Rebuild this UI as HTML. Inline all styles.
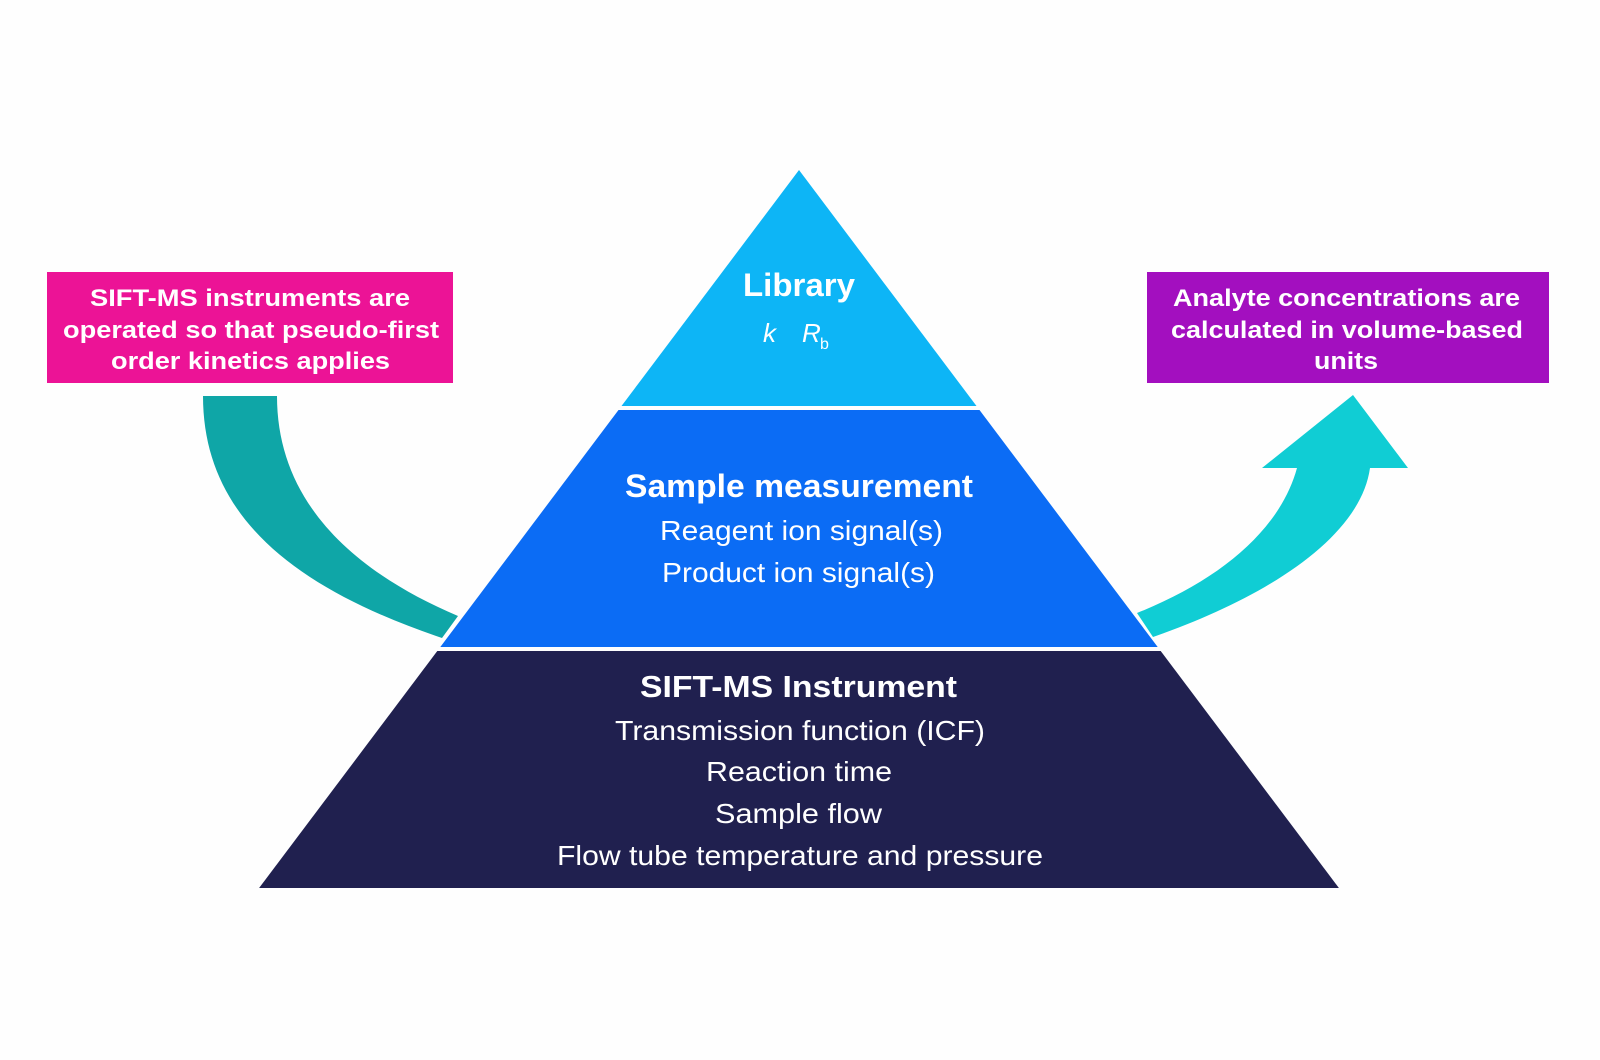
<!DOCTYPE html>
<html>
<head>
<meta charset="utf-8">
<style>
  html,body{margin:0;padding:0;background:#fefefe;}
  svg{display:block;}
  text{font-family:"Liberation Sans",Arial,sans-serif;fill:#ffffff;}
  .b{font-weight:bold;}
</style>
</head>
<body>
<svg width="1600" height="1060" viewBox="0 0 1600 1060" xmlns="http://www.w3.org/2000/svg">
  <rect x="0" y="0" width="1600" height="1060" fill="#fefefe"/>

  <!-- Pyramid tiers -->
  <polygon points="799,170 976.5,406 621.5,406" fill="#0db5f6"/>
  <polygon points="618.5,410 979.5,410 1157.7,647 440.3,647" fill="#0b6cf5"/>
  <polygon points="437.3,651 1160.7,651 1338.9,888 259.1,888" fill="#20204f"/>

  <!-- Left teal curved band -->
  <path d="M203,396 L277,396 C277,500 350,570 458,616 L442,638 C300,590 203,520 203,396 Z" fill="#0fa6a7"/>

  <!-- Right cyan curved arrow -->
  <path d="M1137,613 C1220,580 1280,530 1297,468 L1262,468 L1353,395 L1408,468 L1370,468 C1360,540 1260,600 1153,637 Z" fill="#10cdd4"/>

  <!-- Left magenta box -->
  <rect x="47" y="272" width="406" height="111" fill="#ec1396"/>
  <text class="b" font-size="24" x="90" y="306" textLength="320" lengthAdjust="spacingAndGlyphs">SIFT-MS instruments are</text>
  <text class="b" font-size="24" x="63" y="338" textLength="376" lengthAdjust="spacingAndGlyphs">operated so that pseudo-first</text>
  <text class="b" font-size="24" x="111" y="369" textLength="279" lengthAdjust="spacingAndGlyphs">order kinetics applies</text>

  <!-- Right purple box -->
  <rect x="1147" y="272" width="402" height="111" fill="#a30fbf"/>
  <text class="b" font-size="24" x="1173" y="306" textLength="347" lengthAdjust="spacingAndGlyphs">Analyte concentrations are</text>
  <text class="b" font-size="24" x="1171" y="338" textLength="352" lengthAdjust="spacingAndGlyphs">calculated in volume-based</text>
  <text class="b" font-size="24" x="1314" y="369" textLength="64" lengthAdjust="spacingAndGlyphs">units</text>

  <!-- Library tier text -->
  <text class="b" font-size="32" x="743" y="296" textLength="112" lengthAdjust="spacingAndGlyphs">Library</text>
  <text font-size="26" font-style="italic" x="763" y="342">k</text>
  <text font-size="26" font-style="italic" x="802" y="342">R</text>
  <text font-size="16" x="820" y="349">b</text>

  <!-- Sample measurement tier text -->
  <text class="b" font-size="32" x="625" y="497" textLength="348" lengthAdjust="spacingAndGlyphs">Sample measurement</text>
  <text font-size="28" x="660" y="540" textLength="283" lengthAdjust="spacingAndGlyphs">Reagent ion signal(s)</text>
  <text font-size="28" x="662" y="582" textLength="273" lengthAdjust="spacingAndGlyphs">Product ion signal(s)</text>

  <!-- SIFT-MS Instrument tier text -->
  <text class="b" font-size="31" x="640" y="697" textLength="317" lengthAdjust="spacingAndGlyphs">SIFT-MS Instrument</text>
  <text font-size="28" x="615" y="740" textLength="370" lengthAdjust="spacingAndGlyphs">Transmission function (ICF)</text>
  <text font-size="28" x="706" y="781" textLength="186" lengthAdjust="spacingAndGlyphs">Reaction time</text>
  <text font-size="28" x="715" y="823" textLength="167" lengthAdjust="spacingAndGlyphs">Sample flow</text>
  <text font-size="28" x="557" y="865" textLength="486" lengthAdjust="spacingAndGlyphs">Flow tube temperature and pressure</text>
</svg>
</body>
</html>
